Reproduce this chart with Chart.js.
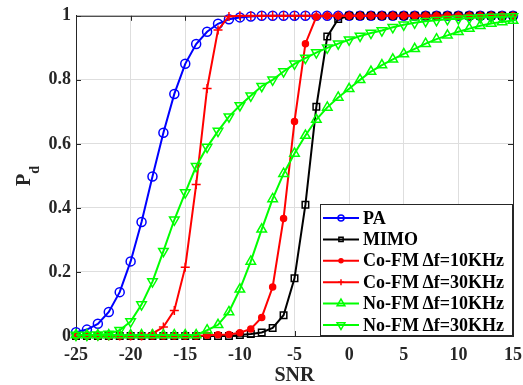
<!DOCTYPE html>
<html>
<head>
<meta charset="utf-8">
<title>Pd vs SNR</title>
<script src="https://cdn.jsdelivr.net/npm/chart.js"></script>
<style>
  html, body { margin: 0; padding: 0; background: #fff; }
</style>
</head>
<body>
<canvas id="pdChart" width="523" height="385"></canvas>
<script>
// detection probability vs SNR (dB), one value per dB step
const snr = [-25, -24, -23, -22, -21, -20, -19, -18, -17, -16, -15, -14, -13, -12, -11, -10,
             -9, -8, -7, -6, -5, -4, -3, -2, -1, 0, 1, 2, 3, 4, 5, 6, 7, 8, 9, 10, 11, 12, 13, 14, 15];

const paPd = [0.012, 0.02, 0.038, 0.075, 0.137, 0.233, 0.356, 0.498, 0.635, 0.756, 0.85, 0.912, 0.95, 0.975, 0.989, 0.995,
              0.998, 1, 1, 1, 1, 1, 1, 1, 1, 1, 1, 1, 1, 1, 1, 1, 1, 1, 1, 1, 1, 1, 1, 1, 1];

const mimoPd = [0, 0, 0, 0, 0, 0, 0, 0, 0, 0, 0, 0, 0, 0, 0, 0.003,
                0.006, 0.011, 0.025, 0.065, 0.18, 0.41, 0.716, 0.935, 0.99, 1, 1, 1, 1, 1, 1, 1, 1, 1, 1, 1, 1, 1, 1, 1, 1];

const coFm10Pd = [0, 0, 0, 0, 0, 0, 0, 0, 0, 0, 0, 0, 0.002, 0.004, 0.005, 0.01,
                  0.022, 0.058, 0.153, 0.367, 0.67, 0.913, 0.997, 1, 1, 1, 1, 1, 1, 1, 1, 1, 1, 1, 1, 1, 1, 1, 1, 1, 1];

const coFm30Pd = [0, 0, 0, 0, 0, 0, 0, 0.008, 0.028, 0.08, 0.215, 0.473, 0.773, 0.956, 0.998, 1,
                  1, 1, 1, 1, 1, 1, 1, 1, 1, 1, 1, 1, 1, 1, 1, 1, 1, 1, 1, 1, 1, 1, 1, 1, 1];

const noFm10Pd = [0.003, 0.003, 0.003, 0.003, 0.003, 0.003, 0.003, 0.003, 0.003, 0.003, 0.003, 0.003, 0.018, 0.035, 0.075, 0.146,
                  0.233, 0.333, 0.428, 0.507, 0.57, 0.626, 0.676, 0.714, 0.745, 0.772, 0.80, 0.826, 0.846, 0.864, 0.881,
                  0.897, 0.913, 0.927, 0.939, 0.95, 0.96, 0.969, 0.976, 0.981, 0.985];

const noFm30Pd = [0.003, 0.003, 0.004, 0.006, 0.018, 0.045, 0.098, 0.17, 0.265, 0.363, 0.448, 0.53, 0.59, 0.64, 0.685, 0.72,
                  0.75, 0.78, 0.80, 0.826, 0.85, 0.868, 0.885, 0.90, 0.913, 0.925, 0.937, 0.946, 0.954, 0.964, 0.972,
                  0.978, 0.983, 0.986, 0.989, 0.991, 0.993, 0.995, 0.996, 0.997, 0.998];

const seriesNames = ['PA', 'MIMO', 'Co-FM\u2009\u0394f=10KHz', 'Co-FM\u2009\u0394f=30KHz',
                     'No-FM\u2009\u0394f=10KHz', 'No-FM\u2009\u0394f=30KHz'];

const FONT = '"Liberation Serif", "Times New Roman", serif';
const AXIS_COLOR = '#262626';
const BLUE = '#0000ff', RED = '#ff0000', GREEN = '#00ff00', BLACK = '#000000';
const NONE = 'rgba(0,0,0,0)';

function toPoints(vals) {
    return vals.map((v, i) => ({x: snr[i], y: v}));
}

function makeSet(label, vals, color, style, fill, radius, legendRadius, order, rotation) {
    return {
        label: label,
        data: toPoints(vals),
        borderColor: color,
        backgroundColor: color,
        borderWidth: 2,
        pointStyle: style,
        pointRotation: rotation || 0,
        pointRadius: radius,
        pointBorderColor: color,
        pointBackgroundColor: fill,
        pointBorderWidth: 1.5,
        legendRadius: legendRadius,
        tension: 0,
        clip: false,
        order: order
    };
}

// box on all sides with inward ticks, like a matlab axes
const axesBox = {
    id: 'axesBox',
    beforeDatasetsDraw(chart) {
        const {ctx, chartArea: a, scales} = chart;
        const tl = 5;
        ctx.save();
        ctx.strokeStyle = AXIS_COLOR;
        ctx.lineWidth = 1;
        ctx.beginPath();
        ctx.moveTo(a.left, a.top + 0.5);
        ctx.lineTo(a.right + 0.5, a.top + 0.5);
        ctx.lineTo(a.right + 0.5, a.bottom);
        scales.x.ticks.forEach(t => {
            const px = Math.round(scales.x.getPixelForValue(t.value)) + 0.5;
            ctx.moveTo(px, a.bottom);
            ctx.lineTo(px, a.bottom - tl);
            ctx.moveTo(px, a.top);
            ctx.lineTo(px, a.top + tl);
        });
        scales.y.ticks.forEach(t => {
            const py = Math.round(scales.y.getPixelForValue(t.value)) + 0.5;
            ctx.moveTo(a.left, py);
            ctx.lineTo(a.left + tl, py);
            ctx.moveTo(a.right, py);
            ctx.lineTo(a.right - tl, py);
        });
        ctx.stroke();
        ctx.restore();
    },
    afterDraw(chart) {
        const {ctx, chartArea: a} = chart;

        // y label P_d, rotated, with subscript
        ctx.save();
        ctx.fillStyle = AXIS_COLOR;
        ctx.textBaseline = 'alphabetic';
        ctx.font = 'bold 20px ' + FONT;
        const pw = ctx.measureText('P').width;
        ctx.font = 'bold 14px ' + FONT;
        const dw = ctx.measureText('d').width;
        ctx.translate(30, (a.top + a.bottom) / 2 + (pw + dw) / 2);
        ctx.rotate(-Math.PI / 2);
        ctx.font = 'bold 20px ' + FONT;
        ctx.fillText('P', 0, 0);
        ctx.font = 'bold 14px ' + FONT;
        ctx.fillText('d', pw, 9);
        ctx.restore();

        // legend in the lower right corner
        const sets = chart.data.datasets;
        const rowH = 21.4;
        const box = {left: a.right - 193, right: a.right - 1, top: a.bottom - 132, bottom: a.bottom};
        ctx.save();
        ctx.fillStyle = '#ffffff';
        ctx.fillRect(box.left, box.top, box.right - box.left, box.bottom - box.top);
        ctx.strokeStyle = AXIS_COLOR;
        ctx.lineWidth = 1;
        ctx.strokeRect(box.left + 0.5, box.top + 0.5, box.right - box.left, box.bottom - box.top - 1);
        ctx.font = 'bold 18px ' + FONT;
        ctx.textBaseline = 'middle';
        sets.forEach((ds, i) => {
            const y = box.top + 14 + i * rowH;
            const x0 = box.left + 3, x1 = box.left + 39;
            ctx.strokeStyle = ds.borderColor;
            ctx.lineWidth = 2;
            ctx.beginPath();
            ctx.moveTo(x0, y);
            ctx.lineTo(x1, y);
            ctx.stroke();
            ctx.lineWidth = 1.5;
            ctx.fillStyle = ds.pointBackgroundColor;
            Chart.helpers.drawPoint(ctx, {
                pointStyle: ds.pointStyle,
                rotation: ds.pointRotation,
                radius: ds.legendRadius,
                borderWidth: 1.5
            }, (x0 + x1) / 2, y);
            ctx.fillStyle = '#000000';
            ctx.fillText(ds.label, box.left + 43, y + 1);
        });
        ctx.restore();
    }
};

const canvas = document.querySelector('#pdChart');

new Chart(canvas, {
    type: 'line',
    data: {
        datasets: [
            makeSet(seriesNames[0], paPd, BLUE, 'circle', NONE, 4.5, 3, 6),
            makeSet(seriesNames[1], mimoPd, BLACK, 'rect', NONE, 4.6, 3, 5),
            makeSet(seriesNames[2], coFm10Pd, RED, 'circle', RED, 3, 2, 4),
            makeSet(seriesNames[3], coFm30Pd, RED, 'cross', NONE, 4.5, 3, 3),
            makeSet(seriesNames[4], noFm10Pd, GREEN, 'triangle', NONE, 5.5, 4.5, 2),
            makeSet(seriesNames[5], noFm30Pd, GREEN, 'triangle', NONE, 5.5, 4.5, 1, 180)
        ]
    },
    options: {
        responsive: false,
        animation: false,
        layout: {padding: {top: 15, right: 10, left: 0, bottom: 0}},
        plugins: {
            legend: {display: false},
            tooltip: {enabled: false}
        },
        scales: {
            x: {
                type: 'linear',
                min: -25,
                max: 15,
                ticks: {
                    stepSize: 5,
                    color: AXIS_COLOR,
                    padding: 9,
                    maxRotation: 0,
                    font: {family: FONT, size: 18, weight: 'bold'}
                },
                grid: {color: '#dedede', drawTicks: false},
                border: {color: AXIS_COLOR, width: 1},
                title: {
                    display: true,
                    text: 'SNR',
                    color: AXIS_COLOR,
                    padding: {top: 0, bottom: -1},
                    font: {family: FONT, size: 20, weight: 'bold', lineHeight: 1}
                },
                afterFit(scale) {
                    scale.height = 49;
                    scale.paddingLeft = 0;
                    scale.paddingRight = 0;
                }
            },
            y: {
                min: 0,
                max: 1,
                ticks: {
                    stepSize: 0.2,
                    color: AXIS_COLOR,
                    padding: 5,
                    font: {family: FONT, size: 18, weight: 'bold'},
                    callback: v => String(Math.round(v * 10) / 10)
                },
                grid: {color: '#dedede', drawTicks: false},
                border: {color: AXIS_COLOR, width: 1},
                afterFit(scale) { scale.width = 76; }
            }
        }
    },
    plugins: [axesBox]
});
</script>
</body>
</html>
